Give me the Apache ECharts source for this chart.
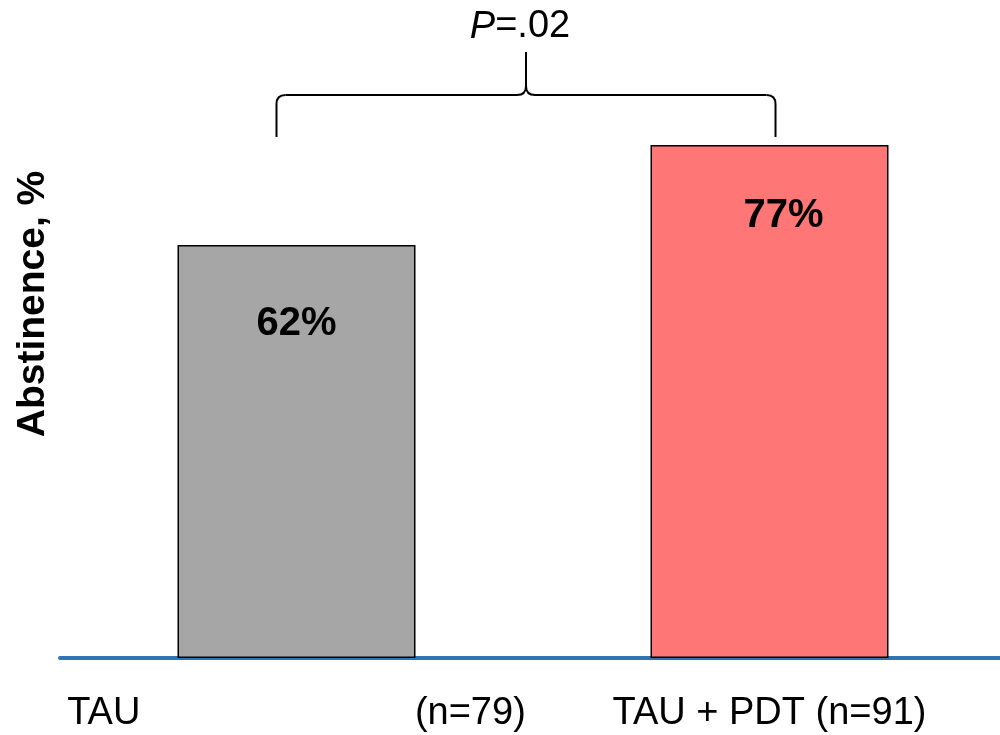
<!DOCTYPE html>
<html>
<head>
<meta charset="utf-8">
<script src="https://cdn.jsdelivr.net/npm/echarts@6/dist/echarts.min.js"></script>
<style>
html,body{margin:0;padding:0;background:#fff;}
#chart{width:1000px;height:735px;}
</style>
</head>
<body>
<div id="chart"></div>
<script>
// ---- data ----
const categories = ['TAU                          (n=79)', 'TAU + PDT (n=91)'];
const abstinence = [62, 77];
const valueLabels = ['62%', '77%'];
const barColors = ['#A6A6A6', '#FF7676'];
const yAxisTitle = 'Abstinence, %';
const pText = '.02';

const FONT = '"Liberation Sans", Arial, sans-serif';
const chart = echarts.init(document.getElementById('chart'), null, {renderer: 'canvas'});

const labelTweaks = [
  {distance: 59, offset: [0, 0]},
  {distance: 51, offset: [14, 0]}
];

const option = {
  animation: false,
  backgroundColor: '#ffffff',
  grid: {left: 60, width: 946, top: 125, bottom: 77, containLabel: false, outerBoundsMode: 'none'},
  xAxis: {
    type: 'category',
    data: categories,
    axisLine: {show: true, lineStyle: {color: '#2E75B6', width: 4}},
    axisTick: {show: false},
    axisLabel: {color: '#000', fontFamily: FONT, fontSize: 38, margin: 37, interval: 0}
  },
  yAxis: {
    type: 'value', min: 0, max: 80,
    axisLine: {show: false}, axisTick: {show: false},
    axisLabel: {show: false}, splitLine: {show: false}
  },
  series: [{
    type: 'bar',
    barWidth: 238,
    data: abstinence.map((v, i) => ({
      value: v,
      itemStyle: {color: barColors[i], borderColor: '#000', borderWidth: 1.5},
      label: {
        show: true, position: 'insideTop',
        distance: labelTweaks[i].distance, offset: labelTweaks[i].offset,
        formatter: valueLabels[i],
        color: '#000', fontFamily: FONT, fontWeight: 'bold', fontSize: 40
      }
    }))
  }]
};
chart.setOption(option);

// annotation: brace + p value, anchored to the bar positions
const xL = chart.convertToPixel({xAxisIndex: 0}, categories[0]) - 20;
const xR = chart.convertToPixel({xAxisIndex: 0}, categories[1]) + 6;
const xm = (xL + xR) / 2;
const yB = 137, yH = 95, yT = 52, r = 9;
const stroke = {stroke: '#000', lineWidth: 2, fill: null};
const seg = (x1, y1, x2, y2) => ({type: 'line', shape: {x1, y1, x2, y2}, style: stroke});
const crv = (x1, y1, cx, cy, x2, y2) => ({type: 'bezierCurve', shape: {x1, y1, x2, y2, cpx1: cx, cpy1: cy}, style: stroke});

chart.setOption({
  graphic: [
    seg(xL, yB, xL, yH + r),
    crv(xL, yH + r, xL, yH, xL + r, yH),
    seg(xL + r, yH, xm - r, yH),
    crv(xm - r, yH, xm, yH, xm, yH - r),
    seg(xm, yH - r, xm, yT),
    crv(xm, yH - r, xm, yH, xm + r, yH),
    seg(xm + r, yH, xR - r, yH),
    crv(xR - r, yH, xR, yH, xR, yH + r),
    seg(xR, yH + r, xR, yB),
    {type: 'text', x: xm - 6, y: 27,
     style: {text: '{i|P}=' + pText, font: '38px ' + FONT, fill: '#000',
             align: 'center', verticalAlign: 'middle',
             rich: {i: {fontStyle: 'italic', fontFamily: FONT, fontSize: 38, fill: '#000'}}}},
    {type: 'text', x: 33, y: 304, rotation: Math.PI / 2,
     style: {text: yAxisTitle, font: 'bold 39px ' + FONT, fill: '#000',
             align: 'center', verticalAlign: 'middle'}}
  ]
});
</script>
</body>
</html>
